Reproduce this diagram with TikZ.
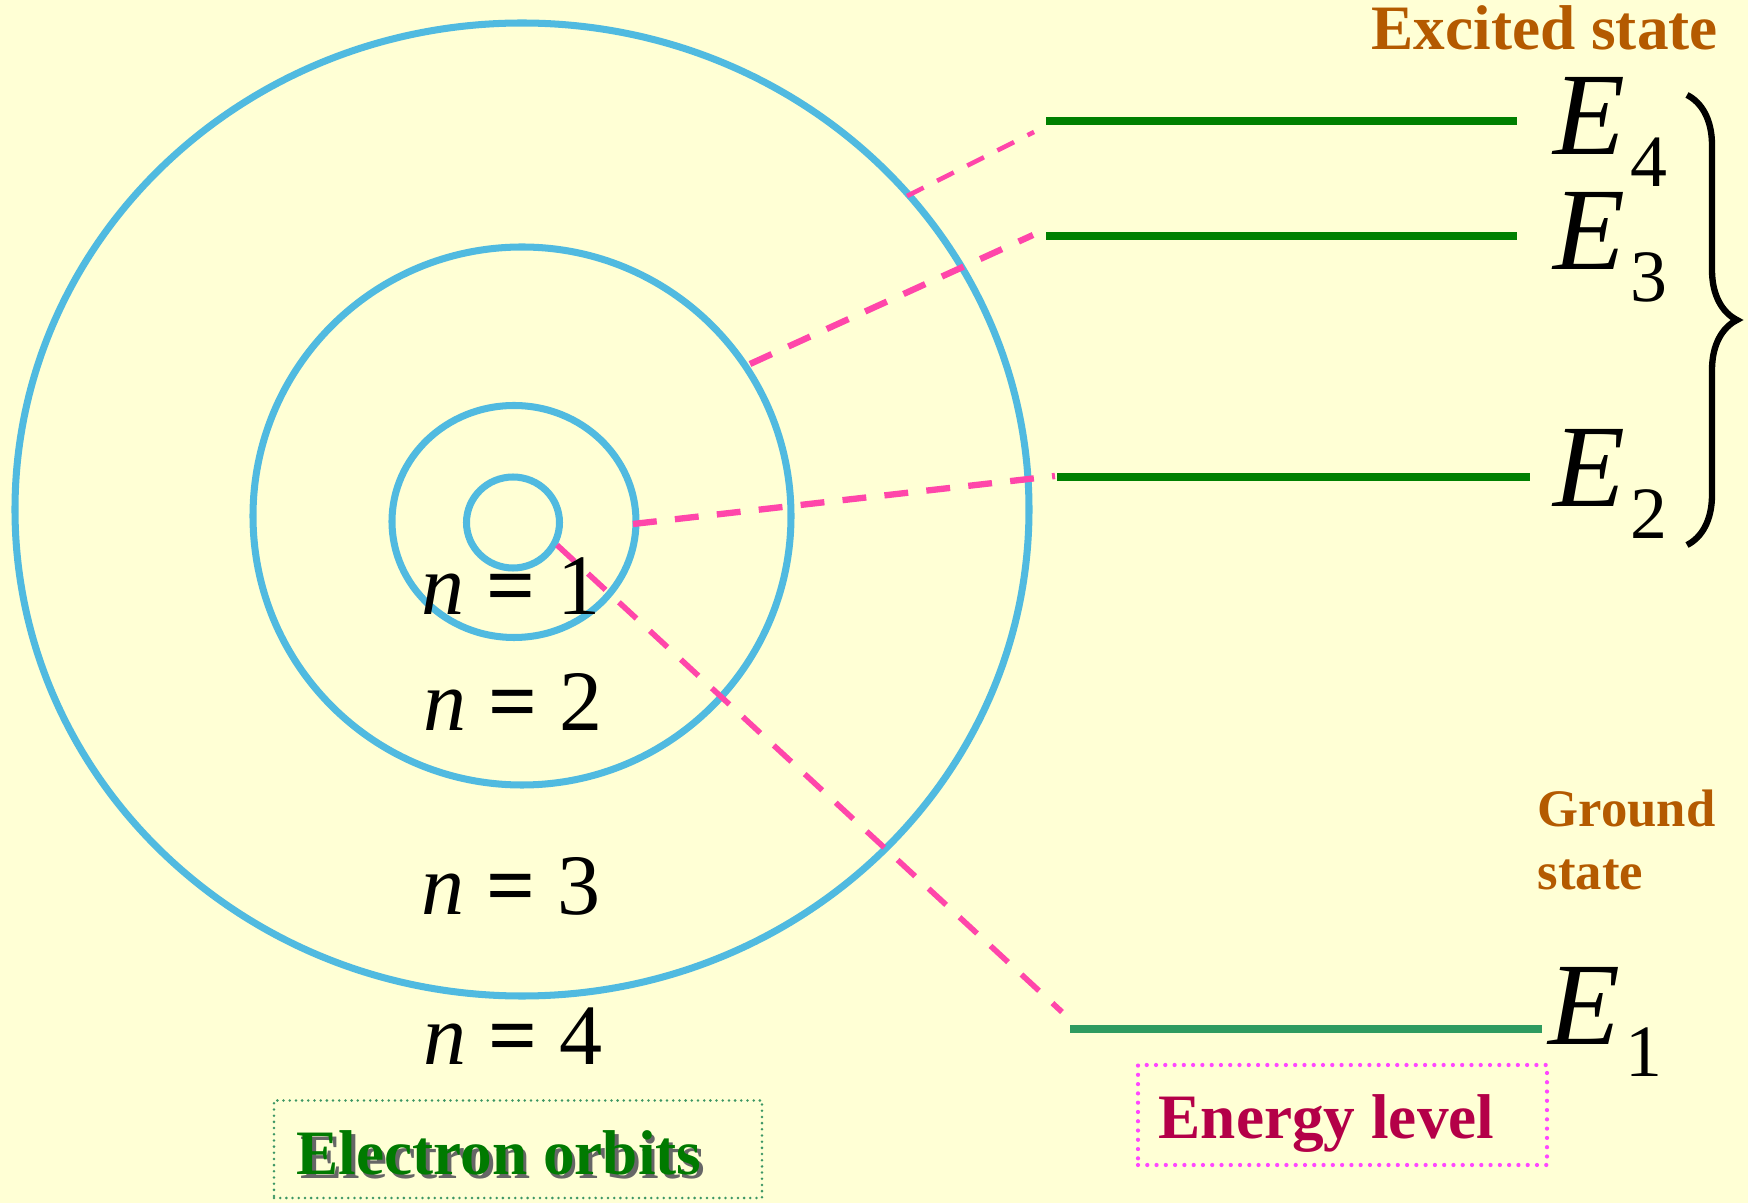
\documentclass[tikz,border=0pt]{standalone}
\usepackage{fontspec}
\setmainfont{Liberation Serif}
\usepackage{tikz}
\usetikzlibrary{decorations.pathreplacing,positioning}
\definecolor{cream}{RGB}{255,255,213}
\definecolor{orbitblue}{RGB}{80,186,224}
\definecolor{linkpink}{RGB}{255,70,170}
\definecolor{levelgreen}{RGB}{0,128,0}
\definecolor{groundgreen}{RGB}{46,155,96}
\definecolor{statebrown}{RGB}{180,90,0}
\definecolor{darkcrimson}{RGB}{180,0,72}
\definecolor{boxgreen}{RGB}{60,150,100}
\definecolor{boxpink}{RGB}{255,70,255}
\definecolor{labelgreen}{RGB}{0,122,0}

\newcommand{\Elev}[1]{{\fontsize{33.5}{40}\selectfont\itshape E}\kern1.5pt\raisebox{-9pt}{\fontsize{21}{25}\selectfont #1}}
\newcommand{\Norb}[1]{\textit{n} {\bfseries =} #1}

\begin{document}
\begin{tikzpicture}[
    orbit/.style={orbitblue, line width=2pt},
    level/.style={levelgreen, line width=2pt},
    link/.style={linkpink, line width=1.8pt, dash pattern=on 6.8pt off 5.2pt},
    nlabel/.style={anchor=base, inner sep=0pt, font=\fontsize{24.5}{29}\selectfont},
    elabel/.style={anchor=base west, inner sep=0pt},
    statetext/.style={anchor=base west, inner sep=0pt, statebrown, font=\fontsize{18}{22}\selectfont\bfseries},
    boxtext/.style={anchor=base west, inner sep=0pt, font=\fontsize{18}{22}\selectfont\bfseries},
    dotbox/.style={line width=#1, dash pattern=on 0pt off 2.2*#1, line cap=round, inner sep=0pt},
  ]
  % Background
  \fill[cream] (0,0) rectangle (17.48,12.03);
  \useasboundingbox (0,0) rectangle (17.48,12.03);
  % Draw the orbits
  \draw[orbit] (5.22,6.935) ellipse (5.07 and 4.865);
  \draw[orbit] (5.22,6.87) circle (2.69);
  \draw[orbit] (5.14,6.815) ellipse (1.22 and 1.16);
  \draw[orbit] (5.13,6.805) ellipse (0.465 and 0.455);
  % Draw the energy levels
  \draw[level] (10.46,10.82) -- (15.17,10.82);
  \draw[level] (10.46,9.67) -- (15.17,9.67);
  \draw[level] (10.57,7.26) -- (15.30,7.26);
  \draw[level, groundgreen, line width=2.1pt] (10.70,1.74) -- (15.42,1.74);
  % Define points
  \coordinate (o4) at (9.07,10.07);
  \coordinate (t4) at (10.34,10.71);
  \coordinate (o3) at (7.50,8.39);
  \coordinate (t3) at (10.33,9.68);
  \coordinate (o2) at (6.33,6.79);
  \coordinate (t2) at (10.55,7.27);
  \coordinate (o1) at (5.57,6.58);
  \coordinate (t1) at (10.62,1.91);
  % Link orbits to levels
  \draw[link, line width=1.3pt, dash pattern=on 5.3pt off 4.3pt] (o4) -- (t4);
  \draw[link] (o3) -- (t3);
  \draw[link] (o2) -- (t2);
  \draw[link, line width=1.6pt] (o1) -- (t1);
  % Orbit labels
  \node[nlabel] (n1) at (5.11,5.88) {\Norb{1}};
  \node[nlabel] (n2) at (5.13,4.72) {\Norb{2}};
  \node[nlabel] (n3) at (5.11,2.885) {\Norb{3}};
  \node[nlabel] (n4) at (5.13,1.38) {\Norb{4}};
  % Level labels
  \node[elabel] (e4) at (15.53,10.48) {\Elev{4}};
  \node[elabel] (e3) at (15.53,9.33) {\Elev{3}};
  \node[elabel] (e2) at (15.53,6.96) {\Elev{2}};
  \node[elabel] (e1) at (15.48,1.58) {\Elev{1}};
  \draw[decorate, decoration={brace, amplitude=0.5cm}, line width=1.8pt] (16.87,11.08) -- (16.87,6.58);
  % States
  \node[statetext] (excited) at (13.71,11.53) {Excited state};
  \node[statetext, font=\fontsize{15}{18}\selectfont\bfseries] (ground) at (15.37,3.76) {Ground};
  \node[statetext, font=\fontsize{15}{18}\selectfont\bfseries] (gstate) at (15.37,3.13) {state};
  % Captions
  \node[dotbox=0.8pt, draw=boxgreen, minimum width=4.88cm, minimum height=0.975cm] (obox) at (5.18,0.5375) {};
  \node[boxtext, black!60] (oshadow) at (2.995,0.245) {Electron orbits};
  \node[boxtext, labelgreen] (otext) at (2.96,0.28) {Electron orbits};
  \node[dotbox=1.2pt, draw=boxpink, minimum width=4.09cm, minimum height=1.0cm] (ebox) at (13.425,0.88) {};
  \node[boxtext, darkcrimson] (etext) at (11.58,0.64) {Energy level};
\end{tikzpicture}
\end{document}
